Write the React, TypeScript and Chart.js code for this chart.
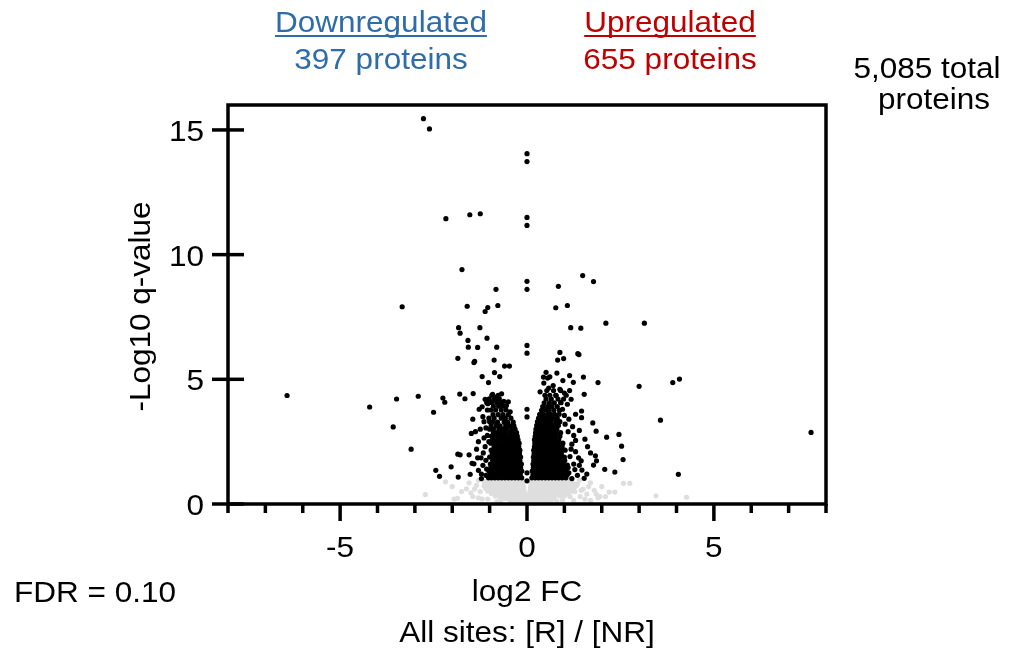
import React, { useEffect, useRef } from "react";
import { Chart, registerables } from "chart.js";

Chart.register(...registerables);

type P = [number, number];
type Row = [number, number[]];

// ---------- axis ticks & labels ----------
const xTickValues = [-8, -7, -6, -5, -4, -3, -2, -1, 0, 1, 2, 3, 4, 5, 6, 7, 8];
const xLabelValues = [-5, 0, 5];
const yTickValues = [0, 5, 10, 15];

const yTitle = "-Log10 q-value";
const xTitle = ["log2 FC", "All sites: [R] / [NR]"];
const fdrText = "FDR = 0.10";
const downText = ["Downregulated", "397 proteins"];
const upText = ["Upregulated", "655 proteins"];
const totalText = ["5,085 total", "proteins"];

// ---------- significant points (log2 FC, -log10 q) ----------
const sigDown: P[] = [
  [-2.77, 15.45], [-2.61, 15.04], [-2.17, 11.44], [-1.53, 11.6], [-1.25, 11.64], [-1.74, 9.4],
  [-0.83, 8.61], [-3.34, 7.91], [-1.6, 7.93], [-1.12, 7.72], [-1.05, 7.88], [-0.78, 7.96],
  [-1.83, 7.07], [-1.79, 6.85], [-1.26, 7.07], [-1.07, 6.65], [-1.58, 6.56], [-1.57, 6.29],
  [-1.32, 6.28], [-0.81, 6.29], [-1.85, 5.84], [-1.42, 5.67], [-1.4, 5.72], [-0.88, 5.77],
  [-0.6, 5.53], [-0.47, 5.53], [-1.2, 5.11], [-0.73, 5.11], [-0.87, 5.27], [-1.03, 4.87],
  [-6.42, 4.35], [-3.49, 4.21], [-2.91, 4.32], [-4.21, 3.89], [-3.58, 3.09], [-3.1, 2.2],
  [-2.5, 3.68], [-2.25, 4.25], [-2.2, 4.08], [-1.8, 4.41], [-1.66, 4.22], [-1.44, 4.43],
  [-1.49, 2.83], [-1.79, 1.97], [-1.55, 1.97], [-2.03, 1.49], [-2.44, 1.35], [-2.34, 1.11],
  [-1.84, 1.08], [-1.52, 1.19], [-1.22, 1.2], [-1.22, 1.02], [-1.47, 1.63], [-1.42, 1.61],
  [-1.23, 1.85], [-1.17, 2.05], [-1.85, 2.0], [-1.3, 2.5], [-1.25, 3.0], [-1.18, 3.5],
  [-1.28, 3.8], [-1.12, 4.2], [-1.35, 2.2], [-1.15, 2.65], [-0.92, 4.4], [-0.8, 4.3],
  [-0.68, 4.42], [-0.62, 4.12], [-0.98, 4.1], [-0.55, 3.95], [-0.45, 3.7], [-1.08, 1.4],
  [-1.12, 2.3], [-1.06, 2.75], [-1.15, 3.3], [-1.2, 3.9], [-1.1, 1.75], [-1.05, 4.02],
  [-0.85, 4.18], [-0.72, 4.0], [-0.5, 4.1], [-1.0, 3.3], [-1.1, 3.05], [-1.02, 2.5],
  [-1.1, 1.15], [-1.3, 1.35], [-1.32, 1.85], [-1.18, 1.55], [-1.38, 2.9], [-1.45, 3.4],
];

const sigZero: P[] = [
  [0, 14.05], [0, 13.73], [0, 11.49], [0, 11.17], [0, 8.93], [0, 8.61], [0, 6.36], [0, 6.05],
  [0, 3.8], [0, 3.49], [0, 1.25], [0, 0.93],
];

const sigUp: P[] = [
  [0.84, 8.73], [1.49, 9.16], [1.78, 8.92], [0.77, 7.87], [1.08, 7.96], [1.17, 7.07],
  [1.44, 7.05], [2.11, 7.25], [3.14, 7.25], [0.88, 6.08], [0.82, 5.77], [0.98, 5.83],
  [1.36, 6.03], [1.39, 5.99], [0.51, 5.28], [0.44, 5.09], [0.55, 5.05], [0.61, 5.1],
  [0.8, 5.25], [0.45, 4.85], [1.14, 5.15], [0.96, 4.95], [1.24, 4.88], [1.51, 5.09],
  [1.9, 4.87], [3.0, 4.72], [3.9, 4.87], [4.08, 5.01], [3.57, 3.36], [7.6, 2.87],
  [2.53, 2.32], [2.46, 2.79], [2.13, 2.68], [1.85, 2.92], [1.76, 3.25], [1.53, 4.4],
  [1.46, 3.73], [1.46, 3.46], [1.14, 4.55], [1.0, 4.45], [0.9, 4.07], [4.05, 1.19],
  [2.57, 1.78], [2.08, 1.39], [2.35, 1.28], [1.83, 1.93], [1.86, 1.73], [1.78, 1.56],
  [1.45, 1.73], [1.47, 1.36], [1.53, 1.03], [1.3, 2.1], [1.3, 2.55], [1.08, 1.56],
  [1.2, 2.4], [1.12, 1.25], [1.15, 1.9], [1.1, 2.9], [1.02, 3.2], [1.0, 3.55],
  [1.22, 3.1], [0.95, 3.8], [1.25, 1.6], [1.35, 1.15], [1.62, 2.3], [1.4, 2.95],
  [0.7, 4.75], [0.58, 4.65], [0.35, 4.5], [1.18, 4.2], [0.88, 4.6], [1.2, 1.02],
  [1.28, 1.38], [1.38, 1.85], [1.18, 2.2], [1.25, 2.75], [1.12, 3.4], [1.3, 3.6],
  [1.08, 4.0], [0.78, 4.35], [1.6, 1.2], [1.7, 2.05], [1.55, 2.6], [1.4, 1.55],
];

// dense cores: [q-value level, fold changes at that level]
const downCoreRows: Row[] = [
  [1.05, [-0.14, -0.23, -0.32, -0.41, -0.5, -0.59, -0.68, -0.77, -0.86, -0.95, -1.03]],
  [1.18, [-0.18, -0.27, -0.36, -0.45, -0.54, -0.63, -0.72, -0.81, -0.9, -0.99]],
  [1.32, [-0.14, -0.22, -0.31, -0.4, -0.49, -0.58, -0.67, -0.76, -0.85, -0.94, -1.02]],
  [1.46, [-0.17, -0.26, -0.35, -0.44, -0.53, -0.62, -0.71, -0.8, -0.89, -0.97]],
  [1.6, [-0.15, -0.24, -0.33, -0.42, -0.51, -0.6, -0.69, -0.78, -0.87, -0.98]],
  [1.74, [-0.19, -0.28, -0.37, -0.46, -0.55, -0.64, -0.73, -0.82, -0.92]],
  [1.88, [-0.17, -0.26, -0.35, -0.44, -0.53, -0.62, -0.71, -0.8, -0.89, -1.0]],
  [2.02, [-0.2, -0.29, -0.38, -0.47, -0.56, -0.65, -0.74, -0.83, -0.93]],
  [2.16, [-0.19, -0.28, -0.37, -0.46, -0.55, -0.64, -0.73, -0.84, -0.96]],
  [2.3, [-0.22, -0.31, -0.4, -0.49, -0.58, -0.67, -0.77, -0.88]],
  [2.44, [-0.21, -0.3, -0.39, -0.48, -0.57, -0.66, -0.75, -0.86, -0.97]],
  [2.58, [-0.24, -0.33, -0.42, -0.51, -0.6, -0.7, -0.82, -0.92]],
  [2.72, [-0.26, -0.35, -0.44, -0.53, -0.63, -0.74, -0.84, -0.95]],
  [2.86, [-0.28, -0.39, -0.46, -0.58, -0.68, -0.8, -0.9]],
  [3.0, [-0.32, -0.41, -0.55, -0.64, -0.75, -0.9, -1.0]],
  [3.13, [-0.35, -0.46, -0.57, -0.72, -0.82, -0.96]],
  [3.28, [-0.37, -0.52, -0.61, -0.79, -0.92]],
  [3.44, [-0.43, -0.58, -0.69, -0.88, -1.02]],
  [3.58, [-0.5, -0.64, -0.77, -0.91]],
  [3.77, [-0.56, -0.69, -0.84, -0.97, -1.06]],
  [3.92, [-0.63, -0.76, -0.9]],
  [4.07, [-0.68, -0.81, -0.95, -1.08]],
  [4.22, [-0.74, -0.87, -1.01]],
  [4.36, [-0.77, -0.94]],
];

const upCoreRows: Row[] = [
  [1.05, [0.13, 0.22, 0.31, 0.4, 0.49, 0.58, 0.67, 0.76, 0.85, 0.94, 1.04]],
  [1.18, [0.16, 0.25, 0.34, 0.43, 0.52, 0.61, 0.7, 0.79, 0.88, 0.97, 1.08]],
  [1.32, [0.14, 0.23, 0.32, 0.41, 0.5, 0.59, 0.68, 0.77, 0.86, 0.95, 1.05]],
  [1.46, [0.17, 0.26, 0.35, 0.44, 0.53, 0.62, 0.71, 0.8, 0.89, 0.99, 1.1]],
  [1.6, [0.16, 0.25, 0.34, 0.43, 0.52, 0.61, 0.7, 0.79, 0.88, 0.97]],
  [1.74, [0.18, 0.27, 0.36, 0.45, 0.54, 0.63, 0.72, 0.81, 0.9, 1.01]],
  [1.88, [0.17, 0.26, 0.35, 0.44, 0.53, 0.62, 0.71, 0.8, 0.89, 1.0]],
  [2.02, [0.19, 0.28, 0.37, 0.46, 0.55, 0.64, 0.73, 0.82, 0.92]],
  [2.16, [0.18, 0.27, 0.36, 0.45, 0.54, 0.63, 0.72, 0.81, 0.9, 1.02]],
  [2.3, [0.2, 0.29, 0.38, 0.47, 0.56, 0.65, 0.74, 0.83, 0.94]],
  [2.44, [0.21, 0.3, 0.39, 0.48, 0.57, 0.66, 0.75, 0.84, 0.96]],
  [2.58, [0.2, 0.29, 0.38, 0.47, 0.56, 0.65, 0.74, 0.85]],
  [2.72, [0.22, 0.31, 0.4, 0.49, 0.58, 0.67, 0.76, 0.88]],
  [2.86, [0.23, 0.32, 0.41, 0.5, 0.59, 0.68, 0.78, 0.9]],
  [3.0, [0.24, 0.33, 0.42, 0.51, 0.6, 0.69, 0.8]],
  [3.15, [0.26, 0.35, 0.44, 0.53, 0.62, 0.72, 0.84]],
  [3.3, [0.28, 0.39, 0.46, 0.57, 0.64, 0.77, 0.88]],
  [3.44, [0.31, 0.41, 0.5, 0.6, 0.69, 0.81]],
  [3.6, [0.34, 0.43, 0.55, 0.63, 0.74, 0.86]],
  [3.76, [0.39, 0.5, 0.59, 0.72, 0.87]],
  [3.91, [0.42, 0.55, 0.67, 0.81]],
  [4.06, [0.46, 0.6, 0.73, 0.91]],
  [4.21, [0.51, 0.65, 0.83, 0.98]],
  [4.36, [0.48, 0.61, 0.77, 1.05]],
  [4.55, [0.53, 0.71, 0.9]],
];

// ---------- not significant points ----------
const nsRows: Row[] = [
  [0.03, [-0.3, -0.2, -0.1, 0, 0.1, 0.2, 0.3]],
  [0.12, [-0.45, -0.35, -0.25, -0.15, -0.05, 0.05, 0.15, 0.25, 0.35, 0.45, 0.55]],
  [0.22, [-0.7, -0.6, -0.5, -0.4, -0.3, -0.2, -0.1, 0, 0.1, 0.2, 0.3, 0.4, 0.5, 0.6, 0.7]],
  [0.32, [-0.85, -0.75, -0.65, -0.55, -0.45, -0.35, -0.25, -0.15, -0.06, 0.06, 0.15, 0.25, 0.35, 0.45, 0.55, 0.65, 0.75, 0.88, 1.0]],
  [0.42, [-0.95, -0.85, -0.75, -0.65, -0.55, -0.45, -0.35, -0.25, -0.15, -0.07, 0.07, 0.15, 0.25, 0.35, 0.45, 0.55, 0.65, 0.75, 0.85, 0.97, 1.1]],
  [0.52, [-1.05, -0.95, -0.85, -0.75, -0.65, -0.55, -0.45, -0.35, -0.25, -0.16, -0.08, 0.08, 0.16, 0.25, 0.35, 0.45, 0.55, 0.65, 0.75, 0.85, 0.95, 1.07, 1.2]],
  [0.62, [-1.1, -1.0, -0.9, -0.8, -0.7, -0.6, -0.5, -0.4, -0.3, -0.2, -0.09, 0.09, 0.2, 0.3, 0.4, 0.5, 0.6, 0.7, 0.8, 0.9, 1.0, 1.12, 1.25]],
  [0.72, [-1.15, -1.05, -0.95, -0.85, -0.75, -0.65, -0.55, -0.45, -0.35, -0.25, -0.1, 0.1, 0.25, 0.35, 0.45, 0.55, 0.65, 0.75, 0.85, 0.95, 1.05, 1.18, 1.32]],
  [0.82, [-1.1, -1.0, -0.9, -0.8, -0.7, -0.6, -0.5, -0.4, -0.3, -0.2, -0.11, 0.11, 0.2, 0.3, 0.4, 0.5, 0.6, 0.7, 0.8, 0.9, 1.0, 1.12, 1.25]],
  [0.92, [-1.05, -0.95, -0.85, -0.75, -0.65, -0.55, -0.45, -0.35, -0.25, -0.12, 0.12, 0.25, 0.35, 0.45, 0.55, 0.65, 0.75, 0.85, 0.95, 1.07, 1.2]],
  [1.0, [-0.9, -0.7, -0.5, -0.3, 0.3, 0.5, 0.7, 0.9, 1.1]],
];

const nsScatter: P[] = [
  [-2.72, 0.38], [-2.18, 0.89], [-1.86, 0.23], [-1.62, 0.61], [3.45, 0.33], [4.27, 0.27],
  [2.58, 0.83], [2.75, 0.83], [2.2, 0.48], [2.35, 0.48], [1.9, 0.25], [1.7, 0.15],
  [1.95, 0.3], [1.5, 0.6], [1.6, 0.4], [1.35, 0.8], [1.42, 0.3], [1.28, 0.5],
  [-1.25, 0.5], [-1.35, 0.75], [-1.45, 0.3], [-1.2, 0.2], [-1.15, 0.9], [-1.55, 0.85],
  [-1.3, 0.95], [-0.8, 0.1], [0.8, 0.12], [-0.7, 0.05], [0.65, 0.05], [1.25, 0.15],
  [-1.75, 0.5], [2.0, 0.7], [1.8, 0.55], [1.7, 0.85], [-2.0, 0.7], [-1.95, 0.2],
  [1.45, 0.55], [1.55, 0.2], [1.4, 0.95], [1.65, 0.7], [-1.4, 0.6], [-1.3, 0.25],
  [-1.5, 0.45], [1.15, 0.3], [-1.05, 0.2], [0.95, 0.15], [1.85, 0.4], [2.1, 0.3],
];

const FONT_FAMILY = '"Liberation Sans", Arial, Helvetica, sans-serif';
const FONT_SIZE = 30;
const SX = 1.05;
const BLUE = "#2E6DA9";
const RED = "#C00000";

const pairs = (arr: P[]) => arr.map(([x, y]) => ({ x, y }));
const rowsToPoints = (rows: Row[]) => rows.flatMap(([y, xs]) => xs.map((x) => ({ x, y })));

function drawText(
  ctx: CanvasRenderingContext2D,
  s: string,
  x: number,
  y: number,
  opts: { size?: number; color?: string; align?: CanvasTextAlign; rot?: number } = {}
): number {
  const { size = FONT_SIZE, color = "#000", align = "center", rot = 0 } = opts;
  ctx.save();
  ctx.translate(x, y);
  if (rot) ctx.rotate(rot);
  ctx.scale(SX, 1);
  ctx.font = `${size}px ${FONT_FAMILY}`;
  ctx.fillStyle = color;
  ctx.textAlign = align;
  ctx.textBaseline = "alphabetic";
  ctx.fillText(s, 0, 0);
  const w = ctx.measureText(s).width * SX;
  ctx.restore();
  return w;
}

const overlayPlugin = {
  id: "volcanoOverlay",
  afterDraw(chart: any) {
    const ctx: CanvasRenderingContext2D = chart.ctx;
    const xs = chart.scales.x;
    const ys = chart.scales.y;
    const { left, right, top, bottom } = chart.chartArea;
    ctx.save();
    ctx.strokeStyle = "#000";
    ctx.lineWidth = 3.5;
    ctx.lineCap = "butt";
    ctx.lineJoin = "miter";
    ctx.strokeRect(left, top, right - left, bottom - top);

    // y ticks (crossing the axis)
    yTickValues.forEach((v) => {
      const py = ys.getPixelForValue(v);
      ctx.beginPath();
      ctx.moveTo(left - 16, py);
      ctx.lineTo(left + 16, py);
      ctx.stroke();
      drawText(ctx, String(v), left - 24, py + 11, { align: "right" });
    });

    // x ticks (below axis)
    xTickValues.forEach((v) => {
      const px = xs.getPixelForValue(v);
      const len = xLabelValues.includes(v) ? 17 : 9;
      ctx.beginPath();
      ctx.moveTo(px, bottom);
      ctx.lineTo(px, bottom + len);
      ctx.stroke();
    });
    xLabelValues.forEach((v) => {
      drawText(ctx, String(v), xs.getPixelForValue(v), 557);
    });

    const cx = (left + right) / 2;
    // axis titles
    drawText(ctx, yTitle, 150, (top + bottom) / 2 + 2, { rot: -Math.PI / 2 });
    drawText(ctx, xTitle[0], cx, 601);
    drawText(ctx, xTitle[1], cx, 642);
    drawText(ctx, fdrText, 14, 602, { align: "left" });

    // headers
    const dx = 381;
    const ux = 670;
    const wd = drawText(ctx, downText[0], dx, 32, { color: BLUE });
    drawText(ctx, downText[1], dx, 69, { color: BLUE });
    const wu = drawText(ctx, upText[0], ux, 32, { color: RED });
    drawText(ctx, upText[1], ux, 69, { color: RED });
    ctx.lineWidth = 2;
    ctx.strokeStyle = BLUE;
    ctx.beginPath();
    ctx.moveTo(dx - wd / 2, 36);
    ctx.lineTo(dx + wd / 2, 36);
    ctx.stroke();
    ctx.strokeStyle = RED;
    ctx.beginPath();
    ctx.moveTo(ux - wu / 2, 36);
    ctx.lineTo(ux + wu / 2, 36);
    ctx.stroke();

    drawText(ctx, totalText[0], 927, 78);
    drawText(ctx, totalText[1], 934, 109);
    ctx.restore();
  },
};

export default function App() {
  const ref = useRef<HTMLCanvasElement>(null);
  useEffect(() => {
    document.body.style.margin = "0";
    const sig = [
      ...pairs(sigDown),
      ...rowsToPoints(downCoreRows),
      ...pairs(sigZero),
      ...rowsToPoints(upCoreRows),
      ...pairs(sigUp),
    ];
    const ns = [...rowsToPoints(nsRows), ...pairs(nsScatter)];
    const chart = new Chart(ref.current as HTMLCanvasElement, {
      type: "scatter",
      data: {
        datasets: [
          {
            label: "Significant",
            data: sig,
            backgroundColor: "#000000",
            borderWidth: 0,
            pointRadius: 2.6,
            pointBorderWidth: 0,
            order: 1,
          },
          {
            label: "Not significant",
            data: ns,
            backgroundColor: "#dedede",
            borderWidth: 0,
            pointRadius: 2.6,
            pointBorderWidth: 0,
            order: 2,
          },
        ],
      },
      options: {
        responsive: false,
        animation: false,
        devicePixelRatio: 1,
        events: [],
        layout: { padding: { left: 0, top: 105, right: 193, bottom: 0 } },
        plugins: { legend: { display: false }, tooltip: { enabled: false }, title: { display: false } },
        scales: {
          x: {
            type: "linear",
            min: -8,
            max: 8,
            ticks: { display: false, stepSize: 1 },
            grid: { display: false, drawTicks: false },
            border: { display: false },
            afterFit: (s: any) => {
              s.height = 144;
            },
          },
          y: {
            type: "linear",
            min: 0,
            max: 16,
            ticks: { display: false, stepSize: 5 },
            grid: { display: false, drawTicks: false },
            border: { display: false },
            afterFit: (s: any) => {
              s.width = 228;
            },
          },
        },
      } as any,
      plugins: [overlayPlugin],
    });
    return () => chart.destroy();
  }, []);
  return (
    <div style={{ position: "fixed", left: 0, top: 0, width: 1019, height: 648, background: "#fff" }}>
      <canvas ref={ref} width={1019} height={648} style={{ display: "block" }} />
    </div>
  );
}
